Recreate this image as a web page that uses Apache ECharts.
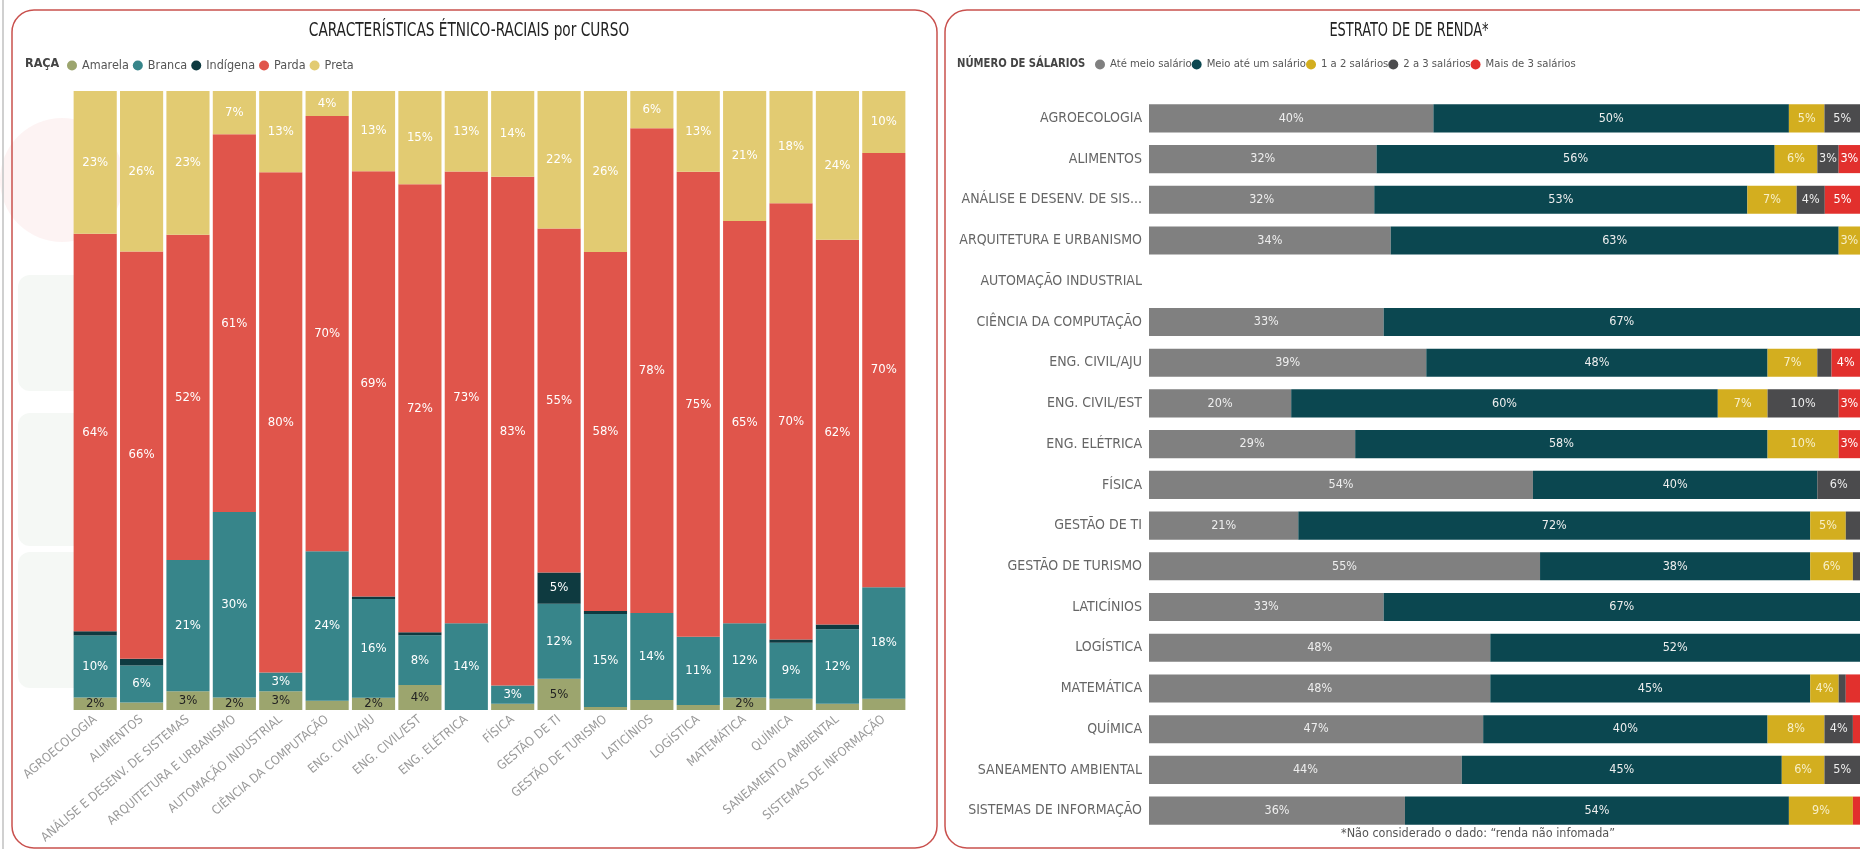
<!DOCTYPE html>
<html>
<head>
<meta charset="utf-8">
<script src="https://cdn.jsdelivr.net/npm/echarts@6/dist/echarts.min.js"></script>
<style>
  html, body { margin: 0; padding: 0; background: #fff; }
  #chart { width: 1860px; height: 849px; }
</style>
</head>
<body>
<div id="chart"></div>
<script>
// --- dados: características étnico-raciais (%) ---
const cursosRaca = [
  "AGROECOLOGIA", "ALIMENTOS", "ANÁLISE E DESENV. DE SISTEMAS", "ARQUITETURA E URBANISMO",
  "AUTOMAÇÃO INDUSTRIAL", "CIÊNCIA DA COMPUTAÇÃO", "ENG. CIVIL/AJU", "ENG. CIVIL/EST",
  "ENG. ELÉTRICA", "FÍSICA", "GESTÃO DE TI", "GESTÃO DE TURISMO", "LATICÍNIOS",
  "LOGÍSTICA", "MATEMÁTICA", "QUÍMICA", "SANEAMENTO AMBIENTAL", "SISTEMAS DE INFORMAÇÃO"
];
const amarela  = [2, 1.2, 3, 2, 3, 1.5, 2, 4, 0, 1, 5, 0.5, 1.6, 0.8, 2, 1.8, 1, 1.8];
const branca   = [10, 6, 21, 30, 3, 24, 16, 8, 14, 3, 12, 15, 14, 11, 12, 9, 12, 18];
const indigena = [0.7, 1.1, 0, 0, 0, 0, 0.4, 0.5, 0, 0, 5, 0.5, 0, 0, 0, 0.5, 0.8, 0];
const parda    = [64, 66, 52, 61, 80, 70, 69, 72, 73, 83, 55, 58, 78, 75, 65, 70, 62, 70];
const preta    = [23, 26, 23, 7, 13, 4, 13, 15, 13, 14, 22, 26, 6, 13, 21, 18, 24, 10];

// --- dados: estrato de renda (%) ---
const cursosRenda = [
  "AGROECOLOGIA", "ALIMENTOS", "ANÁLISE E DESENV. DE SIS...", "ARQUITETURA E URBANISMO",
  "AUTOMAÇÃO INDUSTRIAL", "CIÊNCIA DA COMPUTAÇÃO", "ENG. CIVIL/AJU", "ENG. CIVIL/EST",
  "ENG. ELÉTRICA", "FÍSICA", "GESTÃO DE TI", "GESTÃO DE TURISMO", "LATICÍNIOS",
  "LOGÍSTICA", "MATEMÁTICA", "QUÍMICA", "SANEAMENTO AMBIENTAL", "SISTEMAS DE INFORMAÇÃO"
];
const ateMeio  = [40, 32, 32, 34, null, 33, 39, 20, 29, 54, 21, 55, 33, 48, 48, 47, 44, 36];
const meioUm   = [50, 56, 53, 63, null, 67, 48, 60, 58, 40, 72, 38, 67, 52, 45, 40, 45, 54];
const umDois   = [5, 6, 7, 3, null, 0, 7, 7, 10, 0, 5, 6, 0, 0, 4, 8, 6, 9];
const doisTres = [5, 3, 4, 0, null, 0, 2, 10, 0, 6, 2, 1, 0, 0, 1, 4, 5, 0];
const maisTres = [0, 3, 5, 0, null, 0, 4, 3, 3, 0, 0, 0, 0, 0, 2, 1, 0, 1];

const FONT = "'Liberation Sans Narrow', 'DejaVu Sans Condensed', Roboto, sans-serif";

// normaliza cada coluna para 100% (como no gráfico 100% empilhado), mantendo o valor lido no rótulo
function to100(lists) {
  return lists.map((list) =>
    list.map((v, i) => {
      const total = lists.reduce((s, l) => s + (l[i] || 0), 0);
      if (v == null || !total) return { value: null, raw: null };
      return { value: (v / total) * 100, raw: v };
    })
  );
}

const racaData = to100([amarela, branca, indigena, parda, preta]);
const rendaData = to100([ateMeio, meioUm, umDois, doisTres, maisTres]);

const racaNomes = ["Amarela", "Branca", "Indígena", "Parda", "Preta"];
const racaCores = ["#9ca56e", "#37858a", "#0e3a40", "#e0554b", "#e2cb72"];
const racaTexto = ["#222", "#fff", "#fff", "#fff", "#fff"];

const rendaNomes = ["Até meio salário", "Meio até um salário", "1 a 2 salários", "2 a 3 salários", "Mais de 3 salários"];
const rendaCores = ["#808080", "#0b4750", "#d3ae1f", "#4b4b4d", "#e2302d"];
const rendaTexto = ["#eee", "#eee", "#f7efc8", "#eee", "#fff"];

const seriesRaca = racaNomes.map((nome, k) => ({
  name: nome,
  type: "bar",
  stack: "raca",
  xAxisIndex: 0,
  yAxisIndex: 0,
  barCategoryGap: "7%",
  data: racaData[k],
  itemStyle: { color: racaCores[k] },
  label: {
    show: true,
    position: "inside",
    color: racaTexto[k],
    fontFamily: FONT,
    fontSize: 13,
    formatter: (p) => (p.data.raw >= 2 ? Math.round(p.data.raw) + "%" : ""),
  },
}));

const seriesRenda = rendaNomes.map((nome, k) => ({
  name: nome,
  type: "bar",
  stack: "renda",
  xAxisIndex: 1,
  yAxisIndex: 1,
  barCategoryGap: "31%",
  data: rendaData[k],
  itemStyle: { color: rendaCores[k] },
  label: {
    show: true,
    position: "inside",
    color: rendaTexto[k],
    fontFamily: FONT,
    fontSize: 12.5,
    formatter: (p) => (p.data.raw > 2 ? Math.round(p.data.raw) + "%" : ""),
  },
}));

const myChart = echarts.init(document.getElementById("chart"));

const option = {
  animation: false,
  textStyle: { fontFamily: FONT },
  legend: [
    {
      data: racaNomes,
      left: 62,
      top: 54,
      icon: "circle",
      itemWidth: 10,
      itemHeight: 10,
      itemGap: 4,
      textStyle: { fontFamily: FONT, fontSize: 12.5, color: "#555" },
    },
    {
      data: rendaNomes,
      left: 1090,
      top: 54,
      icon: "circle",
      itemWidth: 10,
      itemHeight: 10,
      itemGap: 0,
      textStyle: { fontFamily: FONT, fontSize: 11.2, color: "#555" },
    },
  ],
  grid: [
    { left: 72, right: 953, top: 91, bottom: 139 },
    { left: 1149, right: -7, top: 98, bottom: 18 },
  ],
  xAxis: [
    {
      gridIndex: 0,
      type: "category",
      data: cursosRaca,
      axisLine: { show: false },
      axisTick: { show: false },
      axisLabel: { interval: 0, rotate: 40, margin: 8, color: "#9a9a9a", fontSize: 12.5, fontFamily: FONT },
    },
    { gridIndex: 1, type: "value", min: 0, max: 100, show: false },
  ],
  yAxis: [
    { gridIndex: 0, type: "value", min: 0, max: 100, show: false },
    {
      gridIndex: 1,
      type: "category",
      inverse: true,
      data: cursosRenda,
      axisLine: { show: false },
      axisTick: { show: false },
      axisLabel: { margin: 7, color: "#666", fontSize: 14, fontFamily: FONT },
    },
  ],
  graphic: [
    // marca d'água clara por trás do painel esquerdo
    { type: "circle", shape: { cx: 62, cy: 180, r: 62 }, style: { fill: "rgba(225,90,80,0.07)" }, silent: true, z: -2 },
    { type: "rect", shape: { x: 18, y: 275, width: 90, height: 116, r: 12 }, style: { fill: "rgba(110,160,110,0.07)" }, silent: true, z: -2 },
    { type: "rect", shape: { x: 18, y: 413, width: 90, height: 133, r: 12 }, style: { fill: "rgba(110,160,110,0.07)" }, silent: true, z: -2 },
    { type: "rect", shape: { x: 18, y: 552, width: 90, height: 136, r: 12 }, style: { fill: "rgba(110,160,110,0.07)" }, silent: true, z: -2 },
    // molduras dos painéis
    { type: "rect", shape: { x: 12, y: 10, width: 925, height: 838, r: 22 }, style: { fill: "none", stroke: "#c9514e", lineWidth: 1.5 }, silent: true, z: -1 },
    { type: "rect", shape: { x: 945, y: 10, width: 960, height: 838, r: 22 }, style: { fill: "none", stroke: "#c9514e", lineWidth: 1.5 }, silent: true, z: -1 },
    { type: "line", shape: { x1: 3, y1: 0, x2: 3, y2: 849 }, style: { stroke: "#d0d0d0", lineWidth: 2 }, silent: true },
    // títulos (fonte condensada: texto comprimido na horizontal)
    {
      type: "text", x: 469, y: 31, scaleX: 0.76,
      style: { text: "CARACTERÍSTICAS ÉTNICO-RACIAIS por CURSO", font: "20px " + FONT, fill: "#222", textAlign: "center", textVerticalAlign: "middle" },
    },
    {
      type: "text", x: 1409, y: 31, scaleX: 0.72,
      style: { text: "ESTRATO DE DE RENDA*", font: "20px " + FONT, fill: "#222", textAlign: "center", textVerticalAlign: "middle" },
    },
    { type: "text", x: 25, y: 64, style: { text: "RAÇA", font: "bold 12.5px " + FONT, fill: "#444", textVerticalAlign: "middle" } },
    { type: "text", x: 957, y: 64, scaleX: 0.93, style: { text: "NÚMERO DE SÁLARIOS", font: "bold 12px " + FONT, fill: "#444", textVerticalAlign: "middle" } },
    {
      type: "text", x: 1478, y: 834,
      style: { text: "*Não considerado o dado: “renda não infomada”", font: "12.5px " + FONT, fill: "#555", textAlign: "center", textVerticalAlign: "middle" },
    },
  ],
  series: seriesRaca.concat(seriesRenda),
};

myChart.setOption(option);
</script>
</body>
</html>
